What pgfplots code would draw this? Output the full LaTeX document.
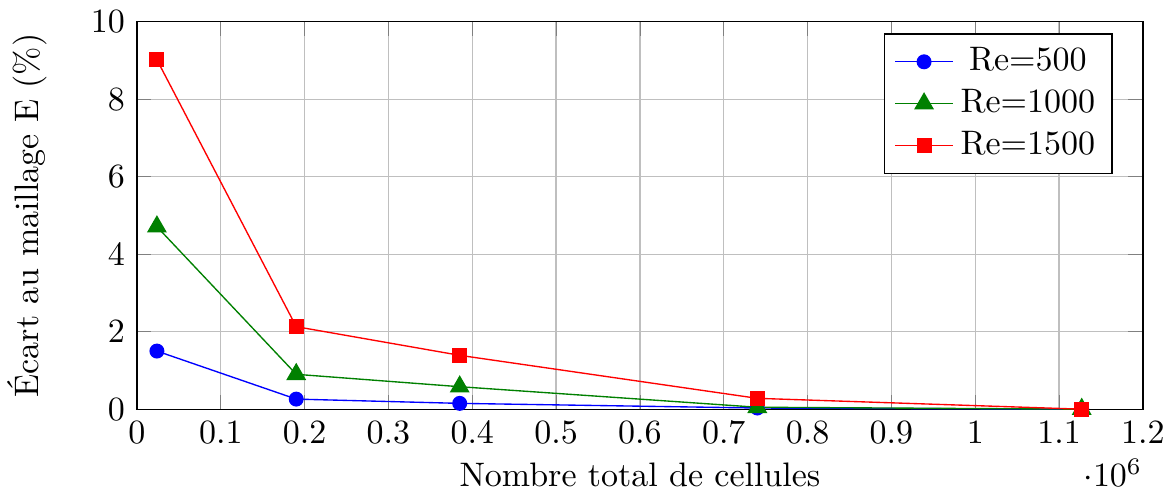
\documentclass[border=0pt]{standalone}
\usepackage{pgfplots}
\pgfplotsset{compat=1.18}
\begin{document}
\begin{tikzpicture}
\begin{axis}[
  scale only axis,
  width=296pt, height=114pt,
  xmin=0, xmax=1.2e6, ymin=0, ymax=10,
  xtick={0,1e5,2e5,3e5,4e5,5e5,6e5,7e5,8e5,9e5,1e6,1.1e6,1.2e6},
  grid=major,
  xlabel={Nombre total de cellules},
  xlabel style={yshift=1.0pt},
  ylabel={Écart au maillage E (\%)},
  ylabel shift=6pt,
  every x tick scale label/.style={at={(rel axis cs:1,0)},anchor=north east,inner sep=0pt,yshift=-14.5pt},
  legend pos=north east,
]
\addplot[blue, mark=*] coordinates {(23800,1.50) (190000,0.26) (385000,0.15) (740000,0.03) (1127000,0.0)};
\addlegendentry{Re=500}
\addplot[green!50!black, mark=triangle*, mark size=3pt] coordinates {(23800,4.71) (190000,0.90) (385000,0.58) (740000,0.05) (1127000,0.0)};
\addlegendentry{Re=1000}
\addplot[red, mark=square*] coordinates {(23800,9.02) (190000,2.13) (385000,1.39) (740000,0.28) (1127000,0.0)};
\addlegendentry{Re=1500}
\end{axis}
\pgfresetboundingbox
\path ([xshift=-40.3pt,yshift=-24.4pt]current axis.south west) rectangle ([xshift=6.5pt,yshift=6.4pt]current axis.north east);
\end{tikzpicture}
\end{document}
